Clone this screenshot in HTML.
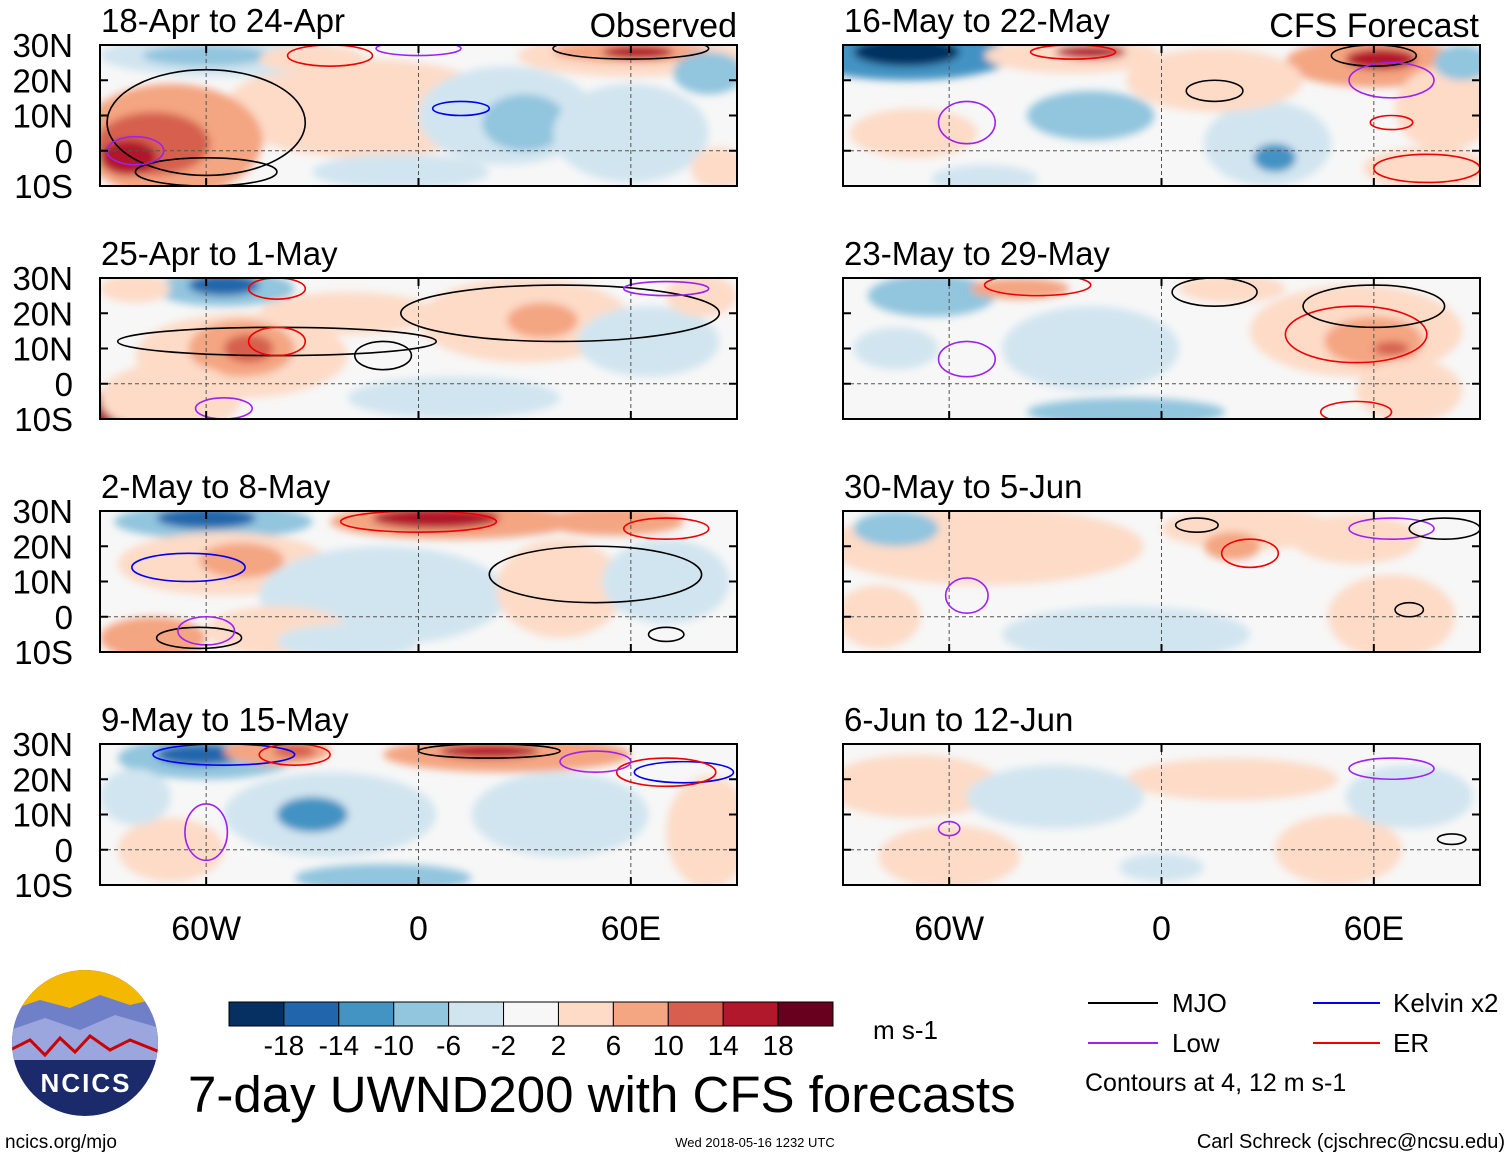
<!DOCTYPE html>
<html><head><meta charset="utf-8">
<style>
body{margin:0;background:#fff;}
svg text{font-family:"Liberation Sans",sans-serif;}
</style></head>
<body>
<svg id="fig" width="1510" height="1158" viewBox="0 0 1510 1158" xmlns="http://www.w3.org/2000/svg">
<defs>
<filter id="soft" x="-20%" y="-20%" width="140%" height="140%"><feGaussianBlur stdDeviation="4"/></filter>
</defs>
<g id="panels"></g>
<g id="colorbar"></g>
<text x="873" y="1039" font-size="26">m s-1</text>
<g>
<line x1="1088" y1="1003" x2="1158" y2="1003" stroke="#000" stroke-width="2"/>
<text x="1172" y="1012" font-size="26">MJO</text>
<line x1="1313" y1="1003" x2="1380" y2="1003" stroke="#0000ee" stroke-width="2"/>
<text x="1393" y="1012" font-size="26">Kelvin x2</text>
<line x1="1088" y1="1043" x2="1158" y2="1043" stroke="#a020f0" stroke-width="2"/>
<text x="1172" y="1052" font-size="26">Low</text>
<line x1="1313" y1="1043" x2="1380" y2="1043" stroke="#ee0000" stroke-width="2"/>
<text x="1393" y="1052" font-size="26">ER</text>
<text x="1085" y="1091" font-size="25">Contours at 4, 12 m s-1</text>
</g>
<text x="188" y="1112" font-size="51">7-day UWND200 with CFS forecasts</text>
<text x="5" y="1148" font-size="19">ncics.org/mjo</text>
<text x="755" y="1147" font-size="13" text-anchor="middle">Wed 2018-05-16 1232 UTC</text>
<text x="1505" y="1148" font-size="20" text-anchor="end">Carl Schreck (cjschrec@ncsu.edu)</text>
<g>
<clipPath id="lc"><circle cx="85" cy="1043" r="73"/></clipPath>
<circle cx="85" cy="1043" r="73" fill="#1b2a6b"/>
<g clip-path="url(#lc)">
<rect x="10" y="968" width="150" height="45" fill="#f5b800"/>
<path d="M10 1010 L40 1000 L70 1008 L100 995 L130 1005 L160 998 L160 1040 L10 1040Z" fill="#6f7fc8"/>
<path d="M10 1030 L45 1018 L80 1030 L115 1015 L160 1028 L160 1060 L10 1060Z" fill="#9aa6dd"/>
<path d="M10 1050 L30 1040 L45 1055 L60 1038 L75 1052 L90 1036 L110 1050 L130 1040 L160 1052" fill="none" stroke="#c00" stroke-width="3"/>
</g>
<text x="86" y="1092" font-size="26" font-weight="bold" fill="#fff" text-anchor="middle" letter-spacing="2">NCICS</text>
</g>
</svg>
<script>
// ---- data: blobs [lon, lat, rxDeg, ryDeg, uwnd m/s]; contours [lon, lat, rxDeg, ryDeg, type]
const levels = [-18,-14,-10,-6,-2,2,6,10,14,18];
const levelLabels = ['-18','-14','-10','-6','-2','2','6','10','14','18'];
const colors = ['#053061','#2166ac','#4393c3','#92c5de','#d1e5f0','#f7f7f7','#fddbc7','#f4a582','#d6604d','#b2182b','#67001f'];
const titles = ['18-Apr to 24-Apr','25-Apr to 1-May','2-May to 8-May','9-May to 15-May','16-May to 22-May','23-May to 29-May','30-May to 5-Jun','6-Jun to 12-Jun'];
const latTicks = [30,20,10,0,-10];
const latLabels = ['30N','20N','10N','0','10S'];
const lonTicks = [-60,0,60];
const lonLabels = ['60W','0','60E'];
const contourColors = {mjo:'#000',kelvin:'#0000ee',low:'#a020f0',er:'#ee0000'};

const p1Blobs=[[-15,12,40,14,4],[-70,3,26,16,8],[-75,2,16,9,12],[-82,-2,8,5,18],[-55,27,35,6,-4],[-60,27,18,3,-8],[60,27,32,6,4],[60,28,22,3,10],[62,28,10,2,16],[25,10,25,14,-4],[30,8,12,8,-8],[60,5,22,14,-4],[-30,26,15,4,4],[82,22,10,6,-6],[-5,-6,25,5,-3],[85,-5,8,6,4]];
const p1Lines=[[-60,8,28,15,'mjo'],[-60,-6,20,4,'mjo'],[-25,27,12,3,'er'],[12,12,8,2,'kelvin'],[0,29,12,2,'low'],[60,29,22,3,'mjo'],[-80,0,8,4,'low']];
const p2Blobs=[[-50,8,30,12,4],[-50,10,15,8,8],[-48,10,7,4,14],[-85,-8,12,6,16],[-70,-4,20,10,6],[-55,27,20,5,-8],[-55,28,10,3,-14],[30,18,30,12,4],[35,18,10,5,10],[-80,27,10,4,6],[-20,20,25,6,4],[65,12,20,10,-4],[10,-4,30,6,-3],[80,25,10,6,4]];
const p2Lines=[[-40,12,45,4,'mjo'],[40,20,45,8,'mjo'],[-40,12,8,4,'er'],[-40,27,8,3,'er'],[-10,8,8,4,'mjo'],[-55,-7,8,3,'low'],[70,27,12,2,'low']];
const p3Blobs=[[-58,27,28,5,-8],[-60,28,14,3,-14],[10,27,35,5,8],[5,28,18,3,16],[-55,15,30,9,4],[-50,16,12,5,8],[-75,-6,15,6,8],[-10,6,35,14,-4],[40,8,18,14,4],[70,10,18,12,-4],[55,27,20,4,8],[-40,-4,20,7,4],[-20,-7,20,5,-3]];
const p3Lines=[[-65,14,16,4,'kelvin'],[0,27,22,3,'er'],[-62,-6,12,3,'mjo'],[50,12,30,8,'mjo'],[-60,-4,8,4,'low'],[70,-5,5,2,'mjo'],[70,25,12,3,'er']];
const p4Blobs=[[-60,26,25,6,-8],[-62,27,12,3,-14],[-40,28,15,4,8],[-35,28,6,2,14],[25,27,35,5,8],[20,28,14,2,16],[-25,10,30,12,-4],[-30,10,10,5,-10],[82,5,12,16,6],[40,10,25,12,-3],[-10,-8,25,4,-6],[-70,0,15,9,4],[-80,15,10,8,-3]];
const p4Lines=[[-55,27,20,3,'kelvin'],[-35,27,10,3,'er'],[20,28,20,2,'mjo'],[-60,5,6,8,'low'],[75,22,14,3,'kelvin'],[70,22,14,4,'er'],[50,25,10,3,'low']];
const p5Blobs=[[-72,27,30,7,-10],[-72,28,15,4,-18],[-25,27,25,5,6],[-20,28,10,2,16],[60,25,25,7,8],[62,26,10,3,16],[-20,10,18,7,-6],[30,2,18,12,-4],[32,-2,6,4,-12],[-70,5,18,7,4],[80,12,14,12,6],[15,20,25,9,4],[75,-5,18,6,6],[85,25,8,5,-6],[-50,-8,15,4,-3]];
const p5Lines=[[-25,28,12,2,'er'],[-55,8,8,6,'low'],[15,17,8,3,'mjo'],[60,27,12,3,'mjo'],[65,20,12,5,'low'],[75,-5,15,4,'er'],[65,8,6,2,'er']];
const p6Blobs=[[-65,25,18,6,-6],[-40,27,14,3,8],[20,27,15,4,6],[55,15,30,13,4],[60,12,14,7,8],[65,10,5,2,14],[-10,-8,28,4,-6],[-20,10,25,12,-3],[-75,10,12,6,-3],[70,-2,15,9,4]];
const p6Lines=[[-35,28,15,3,'er'],[15,26,12,4,'mjo'],[55,14,20,8,'er'],[60,22,20,6,'mjo'],[-55,7,8,5,'low'],[55,-8,10,3,'er']];
const p7Blobs=[[-50,20,45,11,3],[-10,-5,35,8,-3],[25,25,25,6,4],[20,20,8,4,8],[65,0,18,12,6],[-75,25,12,5,-6],[55,22,18,7,4],[-80,0,12,9,3]];
const p7Lines=[[25,18,8,4,'er'],[10,26,6,2,'mjo'],[-55,6,6,5,'low'],[65,25,12,3,'low'],[80,25,10,3,'mjo'],[70,2,4,2,'mjo']];
const p8Blobs=[[-60,-2,20,9,6],[-70,18,25,9,3],[0,-5,12,4,-4],[20,20,30,6,3],[-30,15,25,9,-2],[50,0,18,10,3],[70,15,18,9,-2]];
const p8Lines=[[65,23,12,3,'low'],[-60,6,3,2,'low'],[82,3,4,1.5,'mjo']];

const blobSets=[p1Blobs,p2Blobs,p3Blobs,p4Blobs,p5Blobs,p6Blobs,p7Blobs,p8Blobs];
const lineSets=[p1Lines,p2Lines,p3Lines,p4Lines,p5Lines,p6Lines,p7Lines,p8Lines];

const NS='http://www.w3.org/2000/svg';
const root=document.getElementById('panels');
function mk(t,a,p){const e=document.createElementNS(NS,t);for(const k in a)e.setAttribute(k,a[k]);p.appendChild(e);return e;}
function colorFor(v){let i=0;while(i<levels.length&&v>levels[i])i++;return colors[i];}
const W=637,H=141,pxPerDeg=W/180;
const lefts=[100,843],tops=[45,278,511,744];
for(let p=0;p<8;p++){
  const px=lefts[Math.floor(p/4)],py=tops[p%4];
  const xS=lon=>px+(lon+90)/180*W, yS=lat=>py+(30-lat)/40*H;
  const g=mk('g',{},root);
  
  
  const cp=mk('clipPath',{id:'c'+p},g);
  mk('rect',{x:px,y:py,width:W,height:H},cp);
  const inner=mk('g',{'clip-path':'url(#c'+p+')'},g);
  mk('rect',{x:px,y:py,width:W,height:H,fill:'#f7f7f7'},inner);
  const fg=mk('g',{filter:'url(#soft)'},inner);
  for(const b of blobSets[p]){
    const e=mk('ellipse',{cx:xS(b[0]),cy:yS(b[1]),rx:b[2]*pxPerDeg,ry:b[3]*H/40,fill:colorFor(b[4])},fg);
    
    
  }
  mk('line',{x1:px,y1:yS(0),x2:px+W,y2:yS(0),stroke:'#555','stroke-dasharray':'4,3','stroke-width':1},inner);
  for(const l of lonTicks) mk('line',{x1:xS(l),y1:py,x2:xS(l),y2:py+H,stroke:'#555','stroke-dasharray':'4,3','stroke-width':1},inner);
  for(const c of lineSets[p]){
    const e=mk('ellipse',{cx:xS(c[0]),cy:yS(c[1]),rx:c[2]*pxPerDeg,ry:c[3]*H/40,fill:'none',stroke:contourColors[c[4]],'stroke-width':1.6},inner);
    
    
  }
  mk('rect',{x:px,y:py,width:W,height:H,fill:'none',stroke:'#000','stroke-width':2},g);
  for(const l of latTicks){mk('line',{x1:px,y1:yS(l),x2:px+8,y2:yS(l),stroke:'#000','stroke-width':2},g);mk('line',{x1:px+W-8,y1:yS(l),x2:px+W,y2:yS(l),stroke:'#000','stroke-width':2},g);}
  for(const l of lonTicks){mk('line',{x1:xS(l),y1:py,x2:xS(l),y2:py+8,stroke:'#000','stroke-width':2},g);mk('line',{x1:xS(l),y1:py+H-8,x2:xS(l),y2:py+H,stroke:'#000','stroke-width':2},g);}
  const t=mk('text',{x:px+1,y:py-13,'font-size':33},g);t.textContent=titles[p];
  
  
  if(p<4){latTicks.forEach((l,i)=>{const tt=mk('text',{x:73,y:yS(l)+12,'font-size':33,'text-anchor':'end'},g);tt.textContent=latLabels[i];
    
    });}
  if(p%4===3){lonTicks.forEach((l,i)=>{const tt=mk('text',{x:xS(l),y:940,'font-size':34,'text-anchor':'middle'},g);tt.textContent=lonLabels[i];
    
    });}
}
const o=mk('text',{x:737,y:37,'font-size':34,'text-anchor':'end'},root);o.textContent='Observed';


const f=mk('text',{x:1479,y:37,'font-size':34,'text-anchor':'end'},root);f.textContent='CFS Forecast';


const cb=document.getElementById('colorbar');const bw=604/colors.length;
colors.forEach((c,i)=>{const r=mk('rect',{x:229+i*bw,y:1002,width:bw,height:24,fill:c,stroke:'#000','stroke-width':1},cb);
  
  });
levelLabels.forEach((s,i)=>{const tt=mk('text',{x:229+(i+1)*bw,y:1055,'font-size':28,'text-anchor':'middle'},cb);tt.textContent=s;
  
  });
</script>
</body></html>
